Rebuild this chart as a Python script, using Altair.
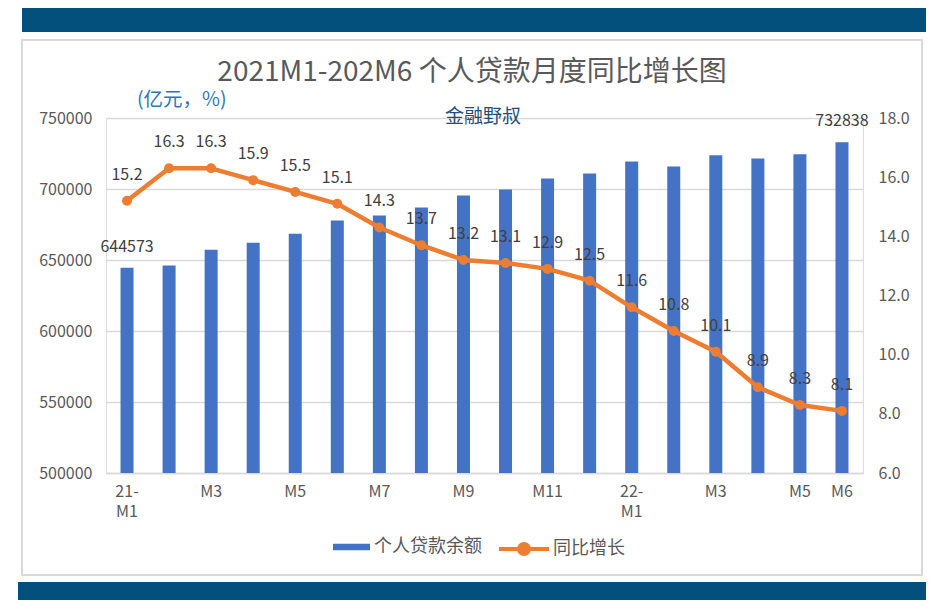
import json
import pandas as pd
import altair as alt

# ---------------- data ----------------
months = ["21-M1", "21-M2", "21-M3", "21-M4", "21-M5", "21-M6", "21-M7", "21-M8", "21-M9",
          "21-M10", "21-M11", "21-M12", "22-M1", "22-M2", "22-M3", "22-M4", "22-M5", "22-M6"]
balance = [644573, 646200, 657300, 662200, 668500, 677800, 681300, 686900, 695400,
           699700, 707400, 711000, 719400, 715900, 723700, 721500, 724400, 732838]
yoy = [15.2, 16.3, 16.3, 15.9, 15.5, 15.1, 14.3, 13.7, 13.2,
       13.1, 12.9, 12.5, 11.6, 10.8, 10.1, 8.9, 8.3, 8.1]
tick_labels = ["21-\nM1", "", "M3", "", "M5", "", "M7", "", "M9",
               "", "M11", "", "22-\nM1", "", "M3", "", "M5", "M6"]
bar_series = "个人贷款余额"
line_series = "同比增长"
left_ticks = [500000, 550000, 600000, 650000, 700000, 750000]
right_ticks = [6, 8, 10, 12, 14, 16, 18]
title_text = "2021M1-202M6 个人贷款月度同比增长图"
unit_note = "(亿元，%)"
author_note = "金融野叔"

# ---------------- style ----------------
FONT = "Noto Sans CJK SC"
GREY = "#595959"
BLUE = "#4472C4"
ORANGE = "#ED7D31"
BAND = "#03507C"

df = pd.DataFrame({"idx": list(range(len(months))), "month": months,
                   "balance": balance, "yoy": yoy})

label_expr = "split(" + json.dumps(tick_labels) + "[datum.value], '\\n')"

x_enc = alt.X("idx:O",
              scale=alt.Scale(paddingInner=0, paddingOuter=0),
              axis=alt.Axis(title=None, labelExpr=label_expr, labelAngle=0,
                            labelFont=FONT, labelFontSize=16, labelColor=GREY,
                            labelPadding=10, labelLineHeight=20, labelOverlap=False,
                            ticks=False, domain=True, domainColor="#D9D9D9",
                            domainWidth=1.5, grid=False))

legend_common = dict(title=None, orient="none", legendY=404, direction="horizontal",
                     labelFont=FONT, labelFontSize=18, labelColor=GREY,
                     padding=0, symbolSize=2500)

fill_enc = alt.Fill("series:N",
                    scale=alt.Scale(domain=[bar_series], range=[BLUE]),
                    legend=alt.Legend(legendX=214, labelOffset=4,
                                      symbolType="M-0.48,-0.13H1V0.13H-0.48Z",
                                      symbolStrokeWidth=0, symbolFillColor=BLUE,
                                      **legend_common))

stroke_enc = alt.Stroke("series:N",
                        scale=alt.Scale(domain=[line_series], range=[ORANGE]),
                        legend=alt.Legend(
                            legendX=391, labelOffset=2,
                            symbolType="M-1,0L1,0M-0.2,0A0.2,0.2,0,1,0,0.2,0A0.2,0.2,0,1,0,-0.2,0Z",
                            symbolStrokeWidth=4, symbolFillColor=ORANGE,
                            symbolStrokeColor=ORANGE, **legend_common))

base = alt.Chart(df)

y_left = alt.Y("balance:Q",
               scale=alt.Scale(domain=[500000, 750000], zero=False, nice=False),
               axis=alt.Axis(title=None, orient="left", values=left_ticks, format="d",
                             labelFont=FONT, labelFontSize=16, labelColor=GREY,
                             labelPadding=14, grid=True, gridColor="#D9D9D9",
                             gridWidth=1.3, domain=False, ticks=False))

bars = base.transform_calculate(series="'" + bar_series + "'").mark_bar(
    size=13, clip=True).encode(x=x_enc, y=y_left, fill=fill_enc)

bar_labels = base.transform_filter("datum.idx == 0 || datum.idx == 17").mark_text(
    font=FONT, fontSize=16, color="#404040", dy=-21, baseline="middle").encode(
    x=x_enc, y=alt.Y("balance:Q"), text=alt.Text("balance:Q", format="d"))

bar_layer = alt.layer(bars, bar_labels)

y_right = alt.Y("yoy:Q",
                scale=alt.Scale(domain=[6, 18], zero=False, nice=False),
                axis=alt.Axis(title=None, orient="right", values=right_ticks, format=".1f",
                              labelFont=FONT, labelFontSize=16, labelColor=GREY,
                              labelPadding=15, grid=False, domain=False, ticks=False))

line = base.transform_calculate(series="'" + line_series + "'").mark_line(
    strokeWidth=4.5, strokeCap="round", strokeJoin="round").encode(
    x=x_enc, y=y_right, stroke=stroke_enc)
pts = base.mark_point(filled=True, size=100, opacity=1, shape="circle",
                      color=ORANGE).encode(x=x_enc, y=alt.Y("yoy:Q"))
line_labels = base.mark_text(font=FONT, fontSize=16, color="#404040", dy=-26,
                             baseline="middle").encode(
    x=x_enc, y=alt.Y("yoy:Q"), text=alt.Text("yoy:Q", format=".1f"))

line_layer = alt.layer(line, pts, line_labels)

# ---------------- decoration ----------------
one = pd.DataFrame({"k": [0]})
top_band = alt.Chart(one).mark_rect(color=BAND).encode(
    x=alt.value(-84), x2=alt.value(820), y=alt.value(-120), y2=alt.value(-86))
bottom_band = alt.Chart(one).mark_rect(color=BAND).encode(
    x=alt.value(-88), x2=alt.value(820), y=alt.value(464), y2=alt.value(520))
frame = alt.Chart(one).mark_rect(fillOpacity=0, stroke="#D9D9D9", strokeWidth=2).encode(
    x=alt.value(-84), x2=alt.value(816), y=alt.value(-78), y2=alt.value(457))

title_mark = alt.Chart(pd.DataFrame({"t": [title_text]})).mark_text(
    font=FONT, fontSize=28, color=GREY, align="center", baseline="middle").encode(
    text="t:N", x=alt.value(366), y=alt.value(-45))
unit_text = alt.Chart(pd.DataFrame({"t": [unit_note]})).mark_text(
    font=FONT, fontSize=19.5, color="#2E75B6", align="left", baseline="middle").encode(
    text="t:N", x=alt.value(31), y=alt.value(-18))
author_text = alt.Chart(pd.DataFrame({"t": [author_note]})).mark_text(
    font=FONT, fontSize=19, color="#1F4E79", align="left", baseline="middle").encode(
    text="t:N", x=alt.value(339), y=alt.value(-1))

chart = alt.layer(
    top_band, bottom_band, frame, title_mark, unit_text, author_text, bar_layer, line_layer
).resolve_scale(y="independent").properties(
    width=757, height=355,
    autosize=alt.AutoSizeParams(type="none"),
    padding={"left": 98, "top": 110, "right": 77, "bottom": 127},
).configure_view(stroke=None).configure(background="white")

chart.save("out.html", embed_options={"renderer": "svg", "actions": False})
